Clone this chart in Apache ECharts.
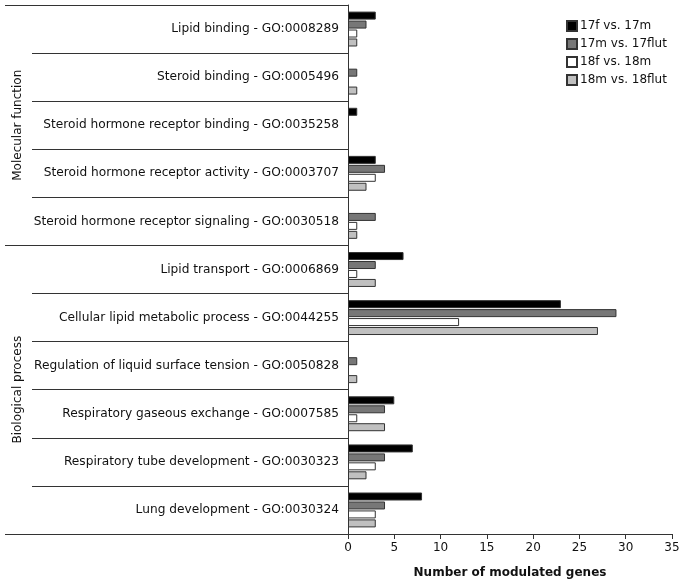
<!DOCTYPE html>
<html><head><meta charset="utf-8">
<script src="https://cdn.jsdelivr.net/npm/echarts@6/dist/echarts.min.js"></script>
<style>html,body{margin:0;padding:0;background:#fff}#c{width:685px;height:585px}</style>
</head><body><div id="c"></div>
<script>
const categories = [
  'Lipid binding - GO:0008289',
  'Steroid binding - GO:0005496',
  'Steroid hormone receptor binding - GO:0035258',
  'Steroid hormone receptor activity - GO:0003707',
  'Steroid hormone receptor signaling - GO:0030518',
  'Lipid transport - GO:0006869',
  'Cellular lipid metabolic process - GO:0044255',
  'Regulation of liquid surface tension - GO:0050828',
  'Respiratory gaseous exchange - GO:0007585',
  'Respiratory tube development - GO:0030323',
  'Lung development - GO:0030324'
];
const seriesNames = ['17f vs. 17m', '17m vs. 17flut', '18f vs. 18m', '18m vs. 18flut'];
const s17f_17m     = [3, 0, 1, 3, 0, 6, 23, 0, 5, 7, 8];
const s17m_17flut  = [2, 1, 0, 4, 3, 3, 29, 1, 4, 4, 4];
const s18f_18m     = [1, 0, 0, 3, 1, 1, 12, 0, 1, 3, 3];
const s18m_18flut  = [1, 1, 0, 2, 1, 3, 27, 1, 4, 2, 3];
const groups = [
  {name: 'Molecular function', start: 0, end: 5},
  {name: 'Biological process', start: 5, end: 11}
];
const xMin = 0, xMax = 35, xStep = 5;
const colors = ['#000000', '#777777', '#ffffff', '#c0c0c0'];
const allSeries = [s17f_17m, s17m_17flut, s18f_18m, s18m_18flut];

const FONT = 'DejaVu Sans';
const chart = echarts.init(document.getElementById('c'), null, {renderer: 'canvas'});
const option = {
  animation: false,
  backgroundColor: '#fff',
  textStyle: {fontFamily: FONT},
  grid: {left: 348, right: 13, top: 5, bottom: 51, containLabel: false},
  legend: {
    orient: 'vertical', left: 561, top: 15,
    itemWidth: 10, itemHeight: 10, itemGap: 6,
    icon: 'rect',
    textStyle: {fontFamily: FONT, fontSize: 12, color: '#111', padding: [0, 0, 0, -2]},
    data: seriesNames
  },
  xAxis: {
    type: 'value', min: xMin, max: xMax, interval: xStep,
    axisLine: {show: true, onZero: false, lineStyle: {color: '#333', width: 1}},
    axisTick: {show: true, length: 5, lineStyle: {color: '#333'}},
    splitLine: {show: false},
    axisLabel: {fontFamily: FONT, fontSize: 12, color: '#111', margin: 8},
    name: 'Number of modulated genes', nameLocation: 'middle', nameGap: 33,
    nameTextStyle: {fontFamily: FONT, fontSize: 12, fontWeight: 'bold', color: '#111'}
  },
  yAxis: [{
    type: 'category', data: categories, inverse: true,
    axisLine: {show: true, onZero: false, lineStyle: {color: '#333', width: 1}},
    axisTick: {show: true, length: 316, lineStyle: {color: '#333', width: 1}},
    axisLabel: {fontFamily: FONT, fontSize: 12.2, color: '#111', margin: 9}
  }, {
    type: 'value', min: 0, max: categories.length, inverse: true, show: false
  }],
  series: allSeries.map((d, i) => ({
    name: seriesNames[i], type: 'bar', yAxisIndex: 0,
    data: d.map(v => v === 0 ? null : v),
    barWidth: 8, barGap: '12%',
    itemStyle: {color: colors[i], borderColor: '#333', borderWidth: 1}
  }))
};
chart.setOption(option);

function drawGroups() {
  const x0 = chart.convertToPixel({xAxisIndex: 0}, xMin);
  const els = [];
  const bounds = new Set();
  groups.forEach(g => { bounds.add(g.start); bounds.add(g.end); });
  bounds.forEach(b => {
    const y = Math.round(chart.convertToPixel({yAxisIndex: 1}, b)) + 0.5;
    els.push({type: 'line', shape: {x1: 5, y1: y, x2: x0, y2: y}, style: {stroke: '#333', lineWidth: 1}, silent: true});
  });
  groups.forEach(g => {
    const ya = chart.convertToPixel({yAxisIndex: 1}, g.start);
    const yb = chart.convertToPixel({yAxisIndex: 1}, g.end);
    els.push({type: 'text', x: 18, y: (ya + yb) / 2, rotation: Math.PI / 2,
      style: {text: g.name, fontFamily: FONT, fontSize: 12, fill: '#111', align: 'center', verticalAlign: 'middle'}, silent: true});
  });
  chart.setOption({graphic: {elements: els}});
}
drawGroups();
</script>
</body></html>
